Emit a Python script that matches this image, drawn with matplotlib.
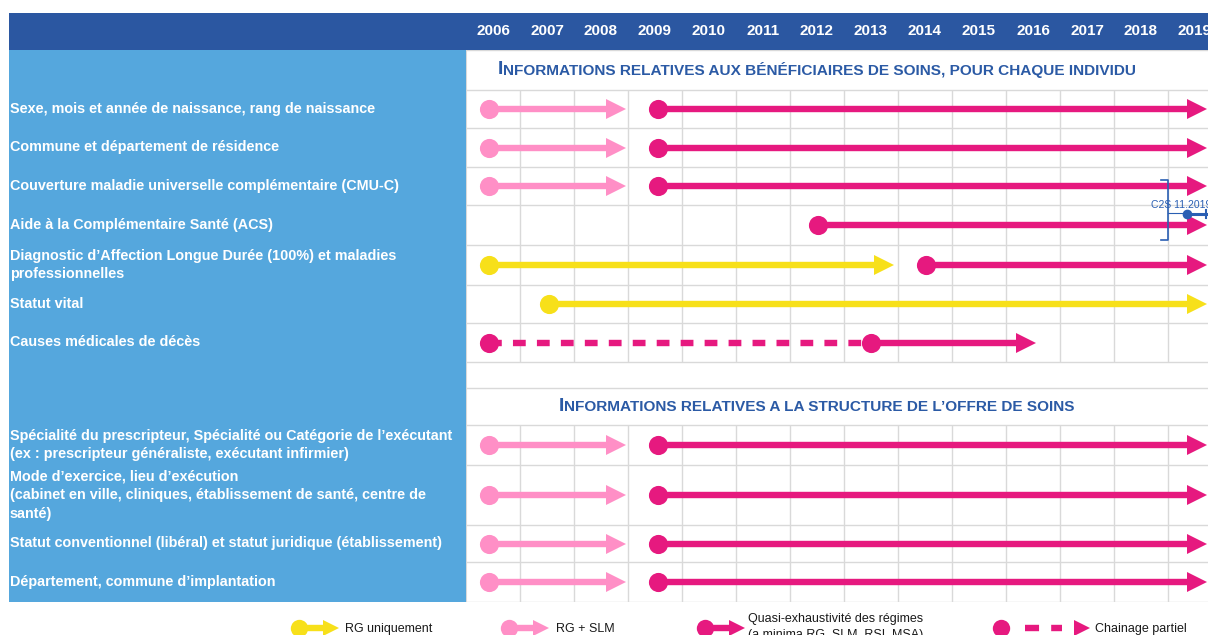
import matplotlib
matplotlib.use("Agg")
import matplotlib.pyplot as plt
from matplotlib.patches import Rectangle
from matplotlib.offsetbox import TextArea, HPacker, AnnotationBbox

plt.rcParams['font.family'] = ['Liberation Sans', 'DejaVu Sans']

# colours
DARK_BLUE = '#2b57a1'
PANEL_BLUE = '#55a7dd'
TITLE_BLUE = '#2b5aa5'
C2S_BLUE = '#2a5fb3'
GRID = '#d9d9d9'
KIND_COLOR = {'rg': '#f7e01a', 'rg_slm': '#ff8fc6', 'all': '#e6197f', 'partial': '#e6197f'}

years = list(range(2006, 2020))

# horizontal bands of the table, top to bottom (heights in px)
band_kind = ['title', 'row', 'row', 'row', 'row', 'row', 'row', 'row',
             'gap', 'title', 'row', 'row', 'row', 'row']
band_height = [40, 38, 39, 38, 40, 40, 38, 39, 26, 37, 40, 60, 37, 40]

section_titles = [
    "INFORMATIONS RELATIVES AUX BÉNÉFICIAIRES DE SOINS, POUR CHAQUE INDIVIDU",
    "INFORMATIONS RELATIVES A LA STRUCTURE DE L\u2019OFFRE DE SOINS",
]

row_labels = [
    "Sexe, mois et année de naissance, rang de naissance",
    "Commune et département de résidence",
    "Couverture maladie universelle complémentaire (CMU-C)",
    "Aide à la Complémentaire Santé (ACS)",
    "Diagnostic d\u2019Affection Longue Durée (100%) et maladies\nprofessionnelles",
    "Statut vital",
    "Causes médicales de décès",
    "Spécialité du prescripteur, Spécialité ou Catégorie de l\u2019exécutant\n(ex : prescripteur généraliste, exécutant infirmier)",
    "Mode d\u2019exercice, lieu d\u2019exécution\n(cabinet en ville, cliniques, établissement de santé, centre de\nsanté)",
    "Statut conventionnel (libéral) et statut juridique (établissement)",
    "Département, commune d\u2019implantation",
]

# availability segments: row index, start year, end year, kind
seg_row = [0, 0, 1, 1, 2, 2, 3, 4, 4, 5, 6, 6, 7, 7, 8, 8, 9, 9, 10, 10]
seg_start = [2005.93, 2009.05, 2005.93, 2009.05, 2005.93, 2009.05, 2012.02, 2005.93, 2014.02, 2007.04,
             2005.93, 2013.0, 2005.93, 2009.05, 2005.93, 2009.05, 2005.93, 2009.05, 2005.93, 2009.05]
seg_end = [2008.45, 2019.22, 2008.45, 2019.22, 2008.45, 2019.22, 2019.22, 2013.42, 2019.22, 2019.22,
           2013.0, 2016.05, 2008.45, 2019.22, 2008.45, 2019.22, 2008.45, 2019.22, 2008.45, 2019.22]
seg_kind = ['rg_slm', 'all', 'rg_slm', 'all', 'rg_slm', 'all', 'all', 'rg', 'all', 'rg',
            'partial', 'all', 'rg_slm', 'all', 'rg_slm', 'all', 'rg_slm', 'all', 'rg_slm', 'all']

c2s_label = "C2S 11.2019"
c2s_year = 2018.85

legend_labels = ["RG uniquement", "RG + SLM",
                 "Quasi-exhaustivité des régimes\n(a minima RG, SLM, RSI, MSA)", "Chainage partiel"]

W, H = 1208, 635
fig = plt.figure(figsize=(W / 100, H / 100), dpi=100)

# background layer in pixel coordinates
bg = fig.add_axes([0, 0, 1, 1], zorder=0)
bg.set_xlim(0, W)
bg.set_ylim(H, 0)
bg.axis('off')

top, bottom = 50, 50 + sum(band_height)
grid_left = 466
cell = 54  # px per year

bg.add_patch(Rectangle((9, 13), W - 9, top - 13, color=DARK_BLUE, lw=0))
bg.add_patch(Rectangle((9, top), grid_left - 9, bottom - top, color=PANEL_BLUE, lw=0))

# band boundaries and centres
edges = [top]
for h in band_height:
    edges.append(edges[-1] + h)
centres = [(a + b) / 2 for a, b in zip(edges[:-1], edges[1:])]
row_y = [c for c, k in zip(centres, band_kind) if k == 'row']
title_y = [c for c, k in zip(centres, band_kind) if k == 'title']

for lab, y in zip(row_labels, row_y):
    bg.text(10, y, lab, color='white', fontsize=10.4, fontweight='bold',
            va='center', ha='left', linespacing=1.45)

# main grid axes: x in years, y in px
x0 = years[0] - 0.5
x1 = x0 + (W - grid_left) / cell
ax = fig.add_axes([grid_left / W, 1 - bottom / H, 1 - grid_left / W, (bottom - top) / H], zorder=1)
ax.set_xlim(x0, x1)
ax.set_ylim(bottom, top)
ax.set_facecolor('white')
ax.set_xticks([])
ax.set_yticks([])
for s in ax.spines.values():
    s.set_visible(False)

for e in edges:
    ax.axhline(e, color=GRID, lw=1, zorder=1)
ax.axvline(x0, color=GRID, lw=1.5, zorder=1)
for a, b, k in zip(edges[:-1], edges[1:], band_kind):
    if k == 'row':
        ax.vlines([yr + 0.5 for yr in years[:-1]], a, b, color=GRID, lw=1, zorder=1)

for yr in years:
    ax.text(yr, 31, str(yr), color='white', fontsize=11, fontweight='bold',
            ha='center', va='center', clip_on=False)


def small_caps(text, xy, big=14, small=11.1):
    props = dict(color=TITLE_BLUE, fontweight='bold')
    box = HPacker(children=[TextArea(text[0], textprops=dict(size=big, **props)),
                            TextArea(text[1:], textprops=dict(size=small, **props))],
                  align='baseline', pad=0, sep=0)
    ax.add_artist(AnnotationBbox(box, xy, frameon=False, box_alignment=(0.5, 0.5), zorder=3))


for t, y in zip(section_titles, title_y):
    small_caps(t, (2012.0, y))

LW = 4.6
DOT = 13.8
HEAD = 13.8
ppy = cell  # px per year on x
head_half = HEAD / 2 * 100 / 72 / ppy

for r, s, e, k in zip(seg_row, seg_start, seg_end, seg_kind):
    y = row_y[r]
    c = KIND_COLOR[k]
    if k == 'partial':
        ax.plot([s, e], [y, y], color=c, lw=LW, ls=(0, (2.0, 1.75)), solid_capstyle='butt',
                dash_capstyle='butt', zorder=4)
    else:
        ax.plot([s, e - head_half], [y, y], color=c, lw=LW, solid_capstyle='butt', zorder=4)
        ax.plot([e - head_half], [y], marker='>', ms=HEAD, mew=0, color=c, zorder=4)
    ax.plot([s], [y], marker='o', ms=DOT, mew=0, color=c, zorder=5)

# C2S bracket on the CMU-C / ACS rows
ya, yb = row_y[2] - 6, row_y[3] + 15
bx = years[-1] - 0.5
tick = 7 / ppy
ax.plot([bx - tick, bx, bx, bx - tick], [ya, ya, yb, yb], color=C2S_BLUE, lw=1.2, zorder=6)
cy = (row_y[2] + row_y[3]) / 2 + 8
ax.plot([bx, c2s_year], [cy - 1, cy - 1], color=C2S_BLUE, lw=0.8, zorder=6)
ax.plot([c2s_year, x1 - 0.02], [cy, cy], color=C2S_BLUE, lw=2.2, zorder=6)
ax.plot([x1 - 0.03, x1 - 0.03], [cy - 4, cy + 4], color=C2S_BLUE, lw=1.5, zorder=6)
ax.plot([c2s_year], [cy], marker='o', ms=7, mew=0, color=C2S_BLUE, zorder=7)
ax.text(bx - 0.32, cy - 9, c2s_label, color=C2S_BLUE, fontsize=7.5, ha='left', va='center', zorder=7)

# legend (pixel coordinates)
leg_y = 628
leg_items = [(299, 331, 345, 'rg'), (509, 541, 556, 'rg_slm'), (705, 737, 748, 'all'), (1001, 1082, 1095, 'partial')]
for (dx, hx, tx, k), lab in zip(leg_items, legend_labels):
    c = KIND_COLOR[k]
    if k == 'partial':
        bg.plot([dx + 24, hx - 20], [leg_y, leg_y], color=c, lw=LW, ls=(0, (2.2, 1.9)), dash_capstyle='butt')
    else:
        bg.plot([dx, hx - 5], [leg_y, leg_y], color=c, lw=LW, solid_capstyle='butt')
    bg.plot([hx], [leg_y], marker='>', ms=12, mew=0, color=c)
    bg.plot([dx], [leg_y], marker='o', ms=12.5, mew=0, color=c)
    if '\n' in lab:
        bg.text(tx, 613, lab, fontsize=9, color='#1a1a1a', ha='left', va='top', linespacing=1.45)
    else:
        bg.text(tx, leg_y + 1, lab, fontsize=9, color='#1a1a1a', ha='left', va='center')

fig.savefig('out.png', dpi=100)
